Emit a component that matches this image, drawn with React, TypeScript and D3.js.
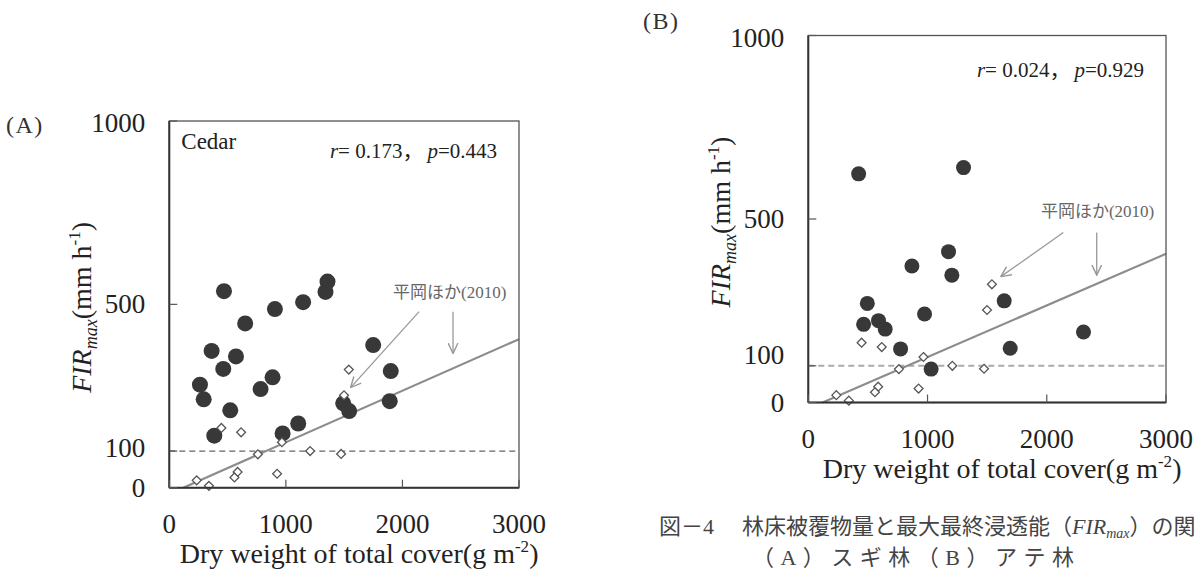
import React from 'react';
import * as d3 from 'd3';

// ---------- data ----------
const xTickValues = [0, 1000, 2000, 3000];
const yTickValues = [0, 100, 500, 1000];

// (A) Cedar stands: dry weight of total cover (g m-2) vs FIRmax (mm h-1)
const cedarWeight = [469, 1357, 1340, 1148, 906, 651, 363, 572, 463, 886, 783, 263, 295, 523, 386, 972, 1106, 1749, 1900, 1891, 1492, 1543];
const cedarFIR = [536, 562, 534, 506, 487, 448, 373, 358, 324, 301, 269, 281, 241, 211, 142, 148, 175, 389, 318, 236, 230, 209];

// (B) Ate stands
const ateWeight = [422, 869, 495, 464, 589, 645, 975, 774, 1030, 1302, 1176, 1204, 1643, 2308, 1693];
const ateFIR = [623, 372, 270, 213, 223, 200, 241, 146, 91, 640, 411, 347, 277, 192, 148];

// 平岡ほか(2010) reference points and regression line
const hiraokaWeight = [447, 616, 966, 760, 1208, 1474, 235, 340, 586, 559, 925, 1540, 1499];
const hiraokaFIR = [163, 151, 124, 91, 100, 92, 20, 5, 43, 28, 38, 322, 252];
const hiraokaLineWeight = [120, 3000];
const hiraokaLineFIR = [0, 405];
const thresholdFIR = 100;

const statsA = ['0.173', '0.443'];
const statsB = ['0.024', '0.929'];

// annotation anchor points in data units: [textX, textY, a1x0, a1y0, a1x1, a1y1, a2x, a2y0, a2y1]
const annotA = [2406, 518, 2143, 480, 1555, 273, 2434, 480, 366];
const annotB = [2426, 505, 2139, 463, 1615, 343, 2419, 463, 347];

const SERIF = '"Liberation Serif", "Times New Roman", serif';
const CJK = '"Liberation Serif", "Noto Sans CJK JP", serif';

type PanelProps = {
  id: string;
  left: number; right: number; top: number; bottom: number;
  weight: number[]; fir: number[];
  r: number;
  tag: string; tagX: number; tagY: number;
  name?: string;
  stats: string[];
  annot: number[];
  tick100Shift: number;
  dashColor: string; dashWidth: number;
};

function Panel(p: PanelProps) {
  const x = d3.scaleLinear().domain([0, 3000]).range([p.left, p.right]);
  const y = d3.scaleLinear().domain([0, 1000]).range([p.bottom, p.top]);
  const line = d3.line<number>().x((d, i) => x(hiraokaLineWeight[i])).y((d, i) => y(d));
  const midX = (p.left + p.right) / 2;
  const midY = (p.top + p.bottom) / 2;
  const a = p.annot;
  const diamond = d3.symbol().type(d3.symbolDiamond2).size(50)();
  return (
    <g>
      {/* threshold dashed */}
      <line x1={x(0)} x2={x(3000)} y1={y(thresholdFIR)} y2={y(thresholdFIR)}
        stroke={p.dashColor} strokeWidth={p.dashWidth} strokeDasharray="6,4" />
      {/* regression line */}
      <path d={line(hiraokaLineFIR) || ''} fill="none" stroke="#8c8c8c" strokeWidth={2.2} />
      {/* filled circles */}
      {p.weight.map((w, i) => (
        <circle key={'c' + i} cx={x(w)} cy={y(p.fir[i])} r={p.r} fill="#383838" />
      ))}
      {/* diamonds */}
      {hiraokaWeight.map((w, i) => (
        <path key={'d' + i} d={diamond || ''} transform={`translate(${x(w)},${y(hiraokaFIR[i])})`}
          fill="#fff" stroke="#555" strokeWidth={1.3} />
      ))}
      {/* frame */}
      <rect x={p.left} y={p.top} width={p.right - p.left} height={p.bottom - p.top}
        fill="none" stroke="#555" strokeWidth={1.3} />
      <line x1={p.left} x2={p.left} y1={p.top} y2={p.bottom} stroke="#333" strokeWidth={2} />
      <line x1={p.left} x2={p.right} y1={p.bottom} y2={p.bottom} stroke="#333" strokeWidth={2} />
      {/* ticks */}
      {yTickValues.map((v) => (
        <line key={'yt' + v} x1={p.left} x2={p.left + 8} y1={y(v)} y2={y(v)} stroke="#555" strokeWidth={1.2} />
      ))}
      {xTickValues.map((v) => (
        <line key={'xt' + v} x1={x(v)} x2={x(v)} y1={p.bottom} y2={p.bottom - 8} stroke="#555" strokeWidth={1.2} />
      ))}
      {/* tick labels */}
      {yTickValues.map((v) => (
        <text key={'yl' + v} x={p.left - 24} y={y(v) + (v === 100 ? p.tick100Shift : v === 1000 ? 11 : 9)}
          textAnchor="end" fontFamily={SERIF} fontSize={27} fill="#222">{v}</text>
      ))}
      {xTickValues.map((v) => (
        <text key={'xl' + v} x={x(v)} y={p.bottom + 45}
          textAnchor="middle" fontFamily={SERIF} fontSize={27} fill="#222">{v}</text>
      ))}
      {/* axis titles */}
      <text x={midX + 15} y={p.bottom + 75} textAnchor="middle" fontFamily={SERIF} fontSize={28} fill="#222">
        Dry weight of total cover(g m<tspan fontSize={17} dy={-11}>-2</tspan><tspan dy={11}>)</tspan>
      </text>
      <text transform={`translate(${p.left - 78},${midY + 3}) rotate(-90)`} textAnchor="middle"
        fontFamily={SERIF} fontSize={28} fill="#222">
        <tspan fontStyle="italic">FIR</tspan>
        <tspan fontStyle="italic" fontSize={18} dy={6}>max</tspan>
        <tspan dy={-6}>(mm h</tspan>
        <tspan fontSize={17} dy={-11}>-1</tspan>
        <tspan dy={11}>)</tspan>
      </text>
      {/* panel tag */}
      <text x={p.tagX} y={p.tagY} fontFamily={SERIF} fontSize={24} fill="#333" letterSpacing={1.5}>{p.tag}</text>
      {p.name && (
        <text x={p.left + 12} y={p.top + 28} fontFamily={SERIF} fontSize={23} fill="#222">{p.name}</text>
      )}
      <text x={p.right - 22} y={p.top + (p.name ? 37 : 41)} textAnchor="end" fontFamily={CJK} fontSize={21} fill="#222">
        <tspan fontStyle="italic">r</tspan>= {p.stats[0]}，<tspan fontStyle="italic" dx={4}>p</tspan>={p.stats[1]}
      </text>
      {/* 平岡ほか(2010) annotation */}
      <text x={x(a[0])} y={y(a[1])} textAnchor="middle" fontFamily={CJK} fontSize={17} fill="#666">平岡ほか(2010)</text>
      <line x1={x(a[2])} y1={y(a[3])} x2={x(a[4])} y2={y(a[5])} stroke="#999" strokeWidth={1.3}
        markerEnd={`url(#arrow-${p.id})`} />
      <line x1={x(a[6])} y1={y(a[7])} x2={x(a[6])} y2={y(a[8])} stroke="#999" strokeWidth={1.3}
        markerEnd={`url(#arrow-${p.id})`} />
      <defs>
        <marker id={`arrow-${p.id}`} viewBox="0 0 10 10" refX={9.5} refY={5} markerWidth={11} markerHeight={11}
          markerUnits="userSpaceOnUse" orient="auto">
          <path d="M0,0.5 L9.5,5 L0,9.5" fill="none" stroke="#999" strokeWidth={1.3} />
        </marker>
      </defs>
    </g>
  );
}

export default function App() {
  return (
    <svg width={1201} height={573} viewBox="0 0 1201 573"
      style={{ position: 'absolute', left: 0, top: 0, background: '#fff' }}>
      <rect width={1201} height={573} fill="#fff" />
      <Panel id="A" left={169.3} right={519} top={121} bottom={487.7}
        weight={cedarWeight} fir={cedarFIR} r={8}
        tag="(A)" tagX={6} tagY={133} name="Cedar" stats={statsA} annot={annotA}
        tick100Shift={6} dashColor="#666" dashWidth={1.3} />
      <Panel id="B" left={808.3} right={1166} top={35.5} bottom={402.5}
        weight={ateWeight} fir={ateFIR} r={7.5}
        tag="(B)" tagX={643} tagY={29} stats={statsB} annot={annotB}
        tick100Shift={-2} dashColor="#aaa" dashWidth={2} />
      {/* caption (the reference crops it at the right edge after 「の関」) */}
      <text y={534} fontFamily={CJK} fontSize={22} fill="#444">
        <tspan x={659}>図－4</tspan>
        <tspan x={742}>林床被覆物量と最大最終浸透能（</tspan>
        <tspan fontStyle="italic">FIR</tspan>
        <tspan fontStyle="italic" fontSize={14} dy={4}>max</tspan>
        <tspan dy={-4}>）の関</tspan>
      </text>
      <text x={752} y={565} fontFamily={CJK} fontSize={22} fill="#444" textLength={322} lengthAdjust="spacing">
        （A）スギ林（B）アテ林
      </text>
    </svg>
  );
}
